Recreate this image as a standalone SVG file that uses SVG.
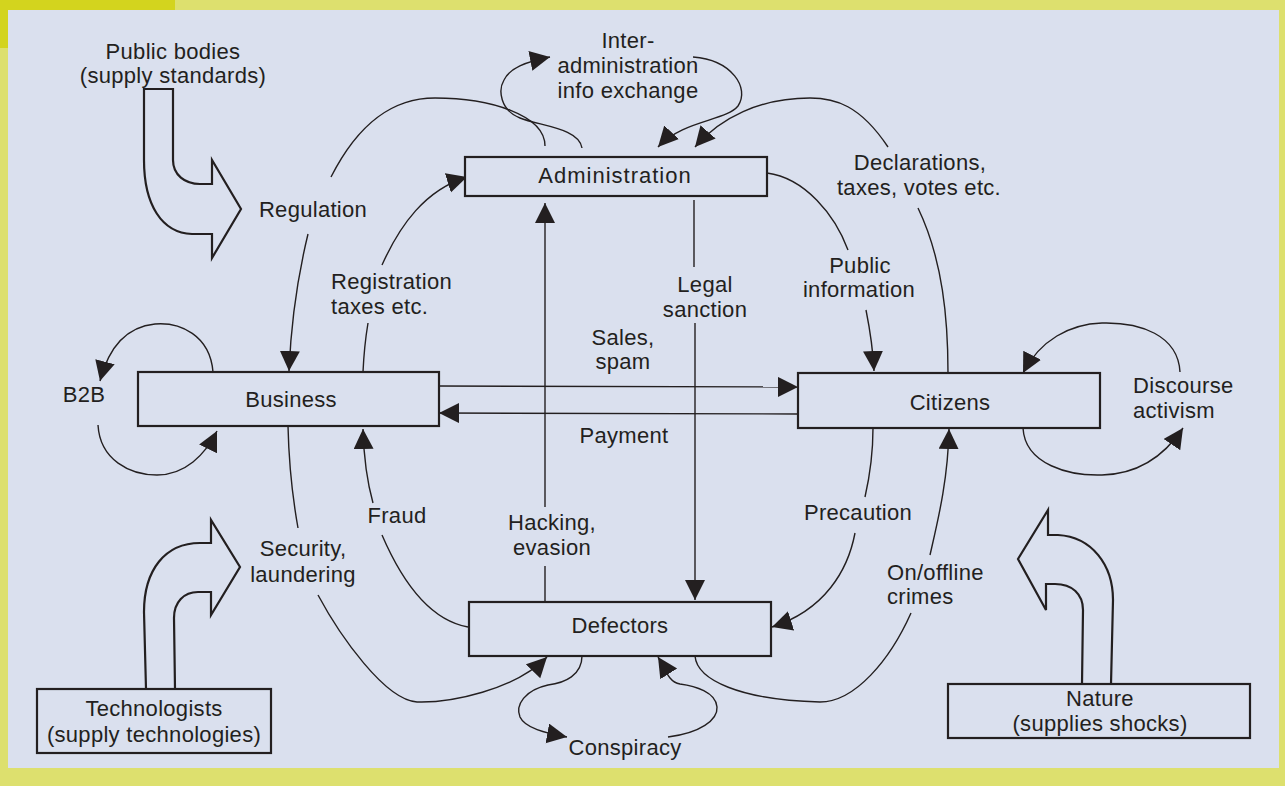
<svg xmlns="http://www.w3.org/2000/svg" width="1285" height="786" viewBox="0 0 1285 786">
  <style>
    .t { font-family: "Liberation Sans", Arial, sans-serif; font-size: 22px; fill: #231f20; letter-spacing: 0.3px; }
    .c { text-anchor: middle; }
    .box { fill: #dae0ee; stroke: #231f20; stroke-width: 2.2; }
    .ln { fill: none; stroke: #231f20; stroke-width: 1.4; }
    .big { fill: #dae0ee; stroke: #231f20; stroke-width: 2.2; stroke-linejoin: miter; }
  </style>
  <defs>
    <marker id="ah" markerUnits="userSpaceOnUse" markerWidth="22" markerHeight="22" refX="20" refY="10" orient="auto" viewBox="0 0 22 22">
      <path d="M0,0 L20,10 L0,20 Z" fill="#231f20"/>
    </marker>
  </defs>

  <!-- page frame -->
  <rect x="0" y="0" width="1285" height="786" fill="#dde06e"/>
  <rect x="0" y="0" width="175" height="48" fill="#d3d41e"/>
  <rect x="8" y="10" width="1271" height="758" fill="#dae0ee"/>

  <!-- flows between actors -->
  <g id="connectors">
    <!-- external supply arrows -->
    <path class="big" d="M144,89 L173,89 L173,160 C173,175 185,184 200,184 L212,184 L212,160 L241,209 L212,258 L212,234 L192,234 C162,233 144,205 144,160 Z"/>
    <path class="big" d="M146,689 L144,612 C144,570 165,543 200,543 L211,543 L211,520 L240,567 L211,615 L211,592 L198,592 C184,592 174,602 174,618 L175,689"/>
    <path class="big" d="M1082,684 L1083,610 C1083,594 1072,584 1055,584 L1046,584 L1046,610 L1018,559 L1048,510 L1048,535 L1058,535 C1092,537 1113,565 1113,600 L1111,684"/>

    <!-- Regulation -->
    <path class="ln" d="M545,146 C545,115 490,98 435,98 C395,98 360,120 331,177"/>
    <path class="ln" d="M308,234 Q292,300 289,371" marker-end="url(#ah)"/>
    <!-- Inter-administration info exchange -->
    <path class="ln" d="M582,148 C579,128 540,126 520,118 C500,110 498,90 504,80 C510,68 525,62 550,57" marker-end="url(#ah)"/>
    <path class="ln" d="M693,57 C732,60 750,88 738,106 C726,121 683,120 658,147" marker-end="url(#ah)"/>
    <!-- Declarations, taxes, votes -->
    <path class="ln" d="M948,373 C948,320 943,260 918,208"/>
    <path class="ln" d="M888,147 C860,105 835,98 810,98 C760,98 720,118 695,147" marker-end="url(#ah)"/>
    <!-- Public information -->
    <path class="ln" d="M767,173 C805,178 835,215 848,250"/>
    <path class="ln" d="M866,310 C870,330 873,350 874,371" marker-end="url(#ah)"/>
    <!-- Legal sanction -->
    <path class="ln" d="M694,200 L694,267"/>
    <path class="ln" d="M695,323 L695,600" marker-end="url(#ah)"/>
    <!-- Hacking, evasion -->
    <path class="ln" d="M545,566 L545,602"/>
    <path class="ln" d="M545,507 L545,203" marker-end="url(#ah)"/>
    <!-- Sales, spam / Payment -->
    <path class="ln" d="M437,386 L798,387" marker-end="url(#ah)"/>
    <path class="ln" d="M798,414 L439,413" marker-end="url(#ah)"/>
    <!-- Registration, taxes -->
    <path class="ln" d="M363,372 C364,350 366,335 368,323"/>
    <path class="ln" d="M382,265 C400,225 425,190 467,177" marker-end="url(#ah)"/>
    <!-- B2B -->
    <path class="ln" d="M213,372 C210,335 180,322 155,324 C125,327 108,350 100,381" marker-end="url(#ah)"/>
    <path class="ln" d="M98,425 C100,460 130,475 157,475 C185,475 205,455 217,431" marker-end="url(#ah)"/>
    <!-- Discourse activism -->
    <path class="ln" d="M1180,372 C1178,335 1140,322 1102,323 C1070,324 1040,340 1023,373" marker-end="url(#ah)"/>
    <path class="ln" d="M1023,428 C1025,465 1070,476 1102,475 C1140,474 1165,455 1183,428" marker-end="url(#ah)"/>
    <!-- Fraud -->
    <path class="ln" d="M468,627 C440,622 410,600 382,535"/>
    <path class="ln" d="M373,503 C368,485 364,465 363,429" marker-end="url(#ah)"/>
    <!-- Security, laundering -->
    <path class="ln" d="M288,426 C289,470 293,500 298,528"/>
    <path class="ln" d="M318,595 C340,636 385,700 417,702 C450,703 515,690 547,657" marker-end="url(#ah)"/>
    <!-- Conspiracy -->
    <path class="ln" d="M582,656 C582,675 565,683 548,685 C525,690 515,705 520,717 C525,728 545,733 567,737" marker-end="url(#ah)"/>
    <path class="ln" d="M668,737 C700,733 718,720 717,707 C716,692 695,686 680,684 C668,682 665,668 658,657" marker-end="url(#ah)"/>
    <!-- Precaution -->
    <path class="ln" d="M873,428 C873,450 870,475 865,497"/>
    <path class="ln" d="M855,533 C848,570 825,610 772,627" marker-end="url(#ah)"/>
    <!-- On/offline crimes -->
    <path class="ln" d="M695,656 C697,680 740,700 820,702 C855,702 890,660 911,613"/>
    <path class="ln" d="M930,555 C938,520 948,480 949,429" marker-end="url(#ah)"/>

    <!-- flow labels -->
    <text class="t c" x="173" y="59">Public bodies</text>
    <text class="t c" x="173" y="83">(supply standards)</text>
    <text class="t c" x="313" y="217">Regulation</text>
    <text class="t c" x="628" y="48">Inter-</text>
    <text class="t c" x="628" y="73">administration</text>
    <text class="t c" x="628" y="98">info exchange</text>
    <text class="t c" x="920" y="170">Declarations,</text>
    <text class="t c" x="919" y="195">taxes, votes etc.</text>
    <text class="t" x="331" y="289">Registration</text>
    <text class="t" x="331" y="314">taxes etc.</text>
    <text class="t c" x="705" y="292">Legal</text>
    <text class="t c" x="705" y="317">sanction</text>
    <text class="t c" x="860" y="273">Public</text>
    <text class="t c" x="859" y="297">information</text>
    <text class="t c" x="623" y="345">Sales,</text>
    <text class="t c" x="623" y="369">spam</text>
    <text class="t c" x="624" y="443">Payment</text>
    <text class="t c" x="84" y="402">B2B</text>
    <text class="t" x="1133" y="393">Discourse</text>
    <text class="t" x="1133" y="418">activism</text>
    <text class="t c" x="397" y="523">Fraud</text>
    <text class="t c" x="552" y="530">Hacking,</text>
    <text class="t c" x="552" y="555">evasion</text>
    <text class="t c" x="303" y="556">Security,</text>
    <text class="t c" x="303" y="582">laundering</text>
    <text class="t c" x="858" y="520">Precaution</text>
    <text class="t" x="887" y="580">On/offline</text>
    <text class="t" x="887" y="604">crimes</text>
    <text class="t c" x="625" y="755">Conspiracy</text>
  </g>

  <!-- actors -->
  <g id="administration">
    <rect class="box" x="465" y="157" width="302" height="39"/>
    <text class="t c" x="615" y="183" style="letter-spacing:1px">Administration</text>
  </g>
  <g id="business">
    <rect class="box" x="138" y="372" width="301" height="54"/>
    <text class="t c" x="291" y="407">Business</text>
  </g>
  <g id="citizens">
    <rect class="box" x="798" y="373" width="302" height="55"/>
    <text class="t c" x="950" y="410">Citizens</text>
  </g>
  <g id="defectors">
    <rect class="box" x="469" y="602" width="302" height="54"/>
    <text class="t c" x="620" y="633">Defectors</text>
  </g>
  <g id="technologists">
    <rect class="box" x="37" y="689" width="234" height="64"/>
    <text class="t c" x="154" y="716">Technologists</text>
    <text class="t c" x="154" y="742">(supply technologies)</text>
  </g>
  <g id="nature">
    <rect class="box" x="948" y="684" width="302" height="54"/>
    <text class="t c" x="1100" y="706">Nature</text>
    <text class="t c" x="1100" y="731">(supplies shocks)</text>
  </g>
</svg>
